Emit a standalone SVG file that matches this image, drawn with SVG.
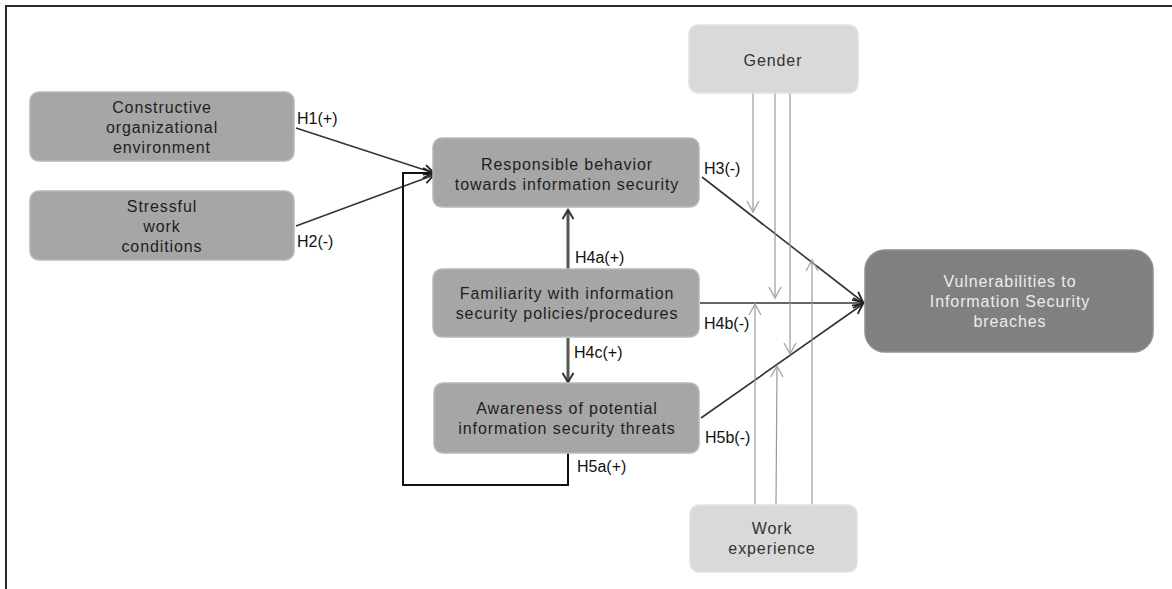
<svg xmlns="http://www.w3.org/2000/svg" width="1172" height="589" viewBox="0 0 1172 589">
<defs>
<style>
.box{fill:#a6a6a6;stroke:#b8b8b8;stroke-width:1.5}
.lbox{fill:#d9d9d9;stroke:#e2e2e2;stroke-width:1.5}
.dbox{fill:#808080;stroke:#8e8e8e;stroke-width:1.5}
.t{font-family:"Liberation Sans",Arial,sans-serif;font-size:16px;letter-spacing:0.9px;fill:#1e1e1e;text-anchor:middle}
.tw{font-family:"Liberation Sans",Arial,sans-serif;font-size:16px;letter-spacing:0.9px;fill:#ececec;text-anchor:middle}
.h{font-family:"Liberation Sans",Arial,sans-serif;font-size:16px;fill:#111}
.dk{stroke:#333;stroke-width:1.6;fill:none}
.thick{stroke:#555;stroke-width:3;fill:none}
.loop{stroke:#111;stroke-width:2;fill:none}
.gl{stroke:#999;stroke-width:1.2;fill:none}
</style>
<marker id="ad" markerUnits="userSpaceOnUse" markerWidth="14" markerHeight="14" refX="12" refY="7" orient="auto">
<path d="M2,2 L12,7 L2,12" fill="none" stroke="#222" stroke-width="1.8"/>
</marker>
<marker id="at" markerUnits="userSpaceOnUse" markerWidth="14" markerHeight="14" refX="11" refY="7" orient="auto">
<path d="M2,1.5 L11,7 L2,12.5" fill="none" stroke="#333" stroke-width="2"/>
</marker>
<marker id="ag" markerUnits="userSpaceOnUse" markerWidth="16" markerHeight="16" refX="13" refY="8" orient="auto">
<path d="M2,2 L13,8 L2,14" fill="none" stroke="#a8a8a8" stroke-width="1.4"/>
</marker>
</defs>
<rect width="1172" height="589" fill="#ffffff"/>
<path d="M6,589 L6,6 L1172,6" fill="none" stroke="#2a2a2a" stroke-width="2"/>

<g id="connectors">
<line class="dk" x1="296" y1="128" x2="434" y2="173" marker-end="url(#ad)"/>
<line class="dk" x1="296" y1="226" x2="434" y2="175" marker-end="url(#ad)"/>
<polyline class="loop" points="568,453 568,485 403,485 403,173 433,173" marker-end="url(#ad)"/>
<line class="thick" x1="568" y1="269" x2="568" y2="210" marker-end="url(#at)"/>
<line class="thick" x1="568" y1="338" x2="568" y2="382" marker-end="url(#at)"/>
<line class="dk" x1="702" y1="177" x2="863" y2="302" marker-end="url(#ad)"/>
<line class="dk" x1="700" y1="303" x2="863" y2="303" marker-end="url(#ad)"/>
<line class="dk" x1="701" y1="418" x2="863" y2="304" marker-end="url(#ad)"/>
<line class="gl" x1="753" y1="93" x2="753" y2="212" marker-end="url(#ag)"/>
<line class="gl" x1="775" y1="93" x2="775" y2="298" marker-end="url(#ag)"/>
<line class="gl" x1="790" y1="93" x2="790" y2="354" marker-end="url(#ag)"/>
<line class="gl" x1="755" y1="505" x2="755" y2="304" marker-end="url(#ag)"/>
<line class="gl" x1="776" y1="505" x2="777" y2="366" marker-end="url(#ag)"/>
<line class="gl" x1="812" y1="505" x2="812" y2="260" marker-end="url(#ag)"/>
</g>

<g id="labels">
<text class="h" x="297" y="124">H1(+)</text>
<text class="h" x="297" y="247">H2(-)</text>
<text class="h" x="704" y="174">H3(-)</text>
<text class="h" x="575" y="263">H4a(+)</text>
<text class="h" x="704" y="329">H4b(-)</text>
<text class="h" x="574" y="358">H4c(+)</text>
<text class="h" x="705" y="443">H5b(-)</text>
<text class="h" x="577" y="472">H5a(+)</text>
</g>

<g id="constructive">
<rect class="box" x="30" y="92" width="264" height="69" rx="9"/>
<text class="t" x="162" y="113">Constructive</text>
<text class="t" x="162" y="133">organizational</text>
<text class="t" x="162" y="153">environment</text>
</g>
<g id="stressful">
<rect class="box" x="30" y="191" width="264" height="69" rx="9"/>
<text class="t" x="162" y="212">Stressful</text>
<text class="t" x="162" y="232">work</text>
<text class="t" x="162" y="252">conditions</text>
</g>
<g id="responsible">
<rect class="box" x="433" y="138" width="266" height="69" rx="9"/>
<text class="t" x="567" y="170">Responsible behavior</text>
<text class="t" x="567" y="190">towards information security</text>
</g>
<g id="familiarity">
<rect class="box" x="433" y="269" width="266" height="68" rx="9"/>
<text class="t" x="567" y="299">Familiarity with information</text>
<text class="t" x="567" y="319">security policies/procedures</text>
</g>
<g id="awareness">
<rect class="box" x="434" y="383" width="265" height="70" rx="9"/>
<text class="t" x="567" y="414">Awareness of potential</text>
<text class="t" x="567" y="434">information security threats</text>
</g>
<g id="gender">
<rect class="lbox" x="689" y="25" width="169" height="68" rx="9"/>
<text class="t" x="773" y="66" style="fill:#333">Gender</text>
</g>
<g id="work">
<rect class="lbox" x="690" y="505" width="167" height="67" rx="9"/>
<text class="t" x="772" y="534" style="fill:#333">Work</text>
<text class="t" x="772" y="554" style="fill:#333">experience</text>
</g>
<g id="vulnerabilities">
<rect class="dbox" x="865" y="250" width="288" height="102" rx="20"/>
<text class="tw" x="1010" y="287">Vulnerabilities to</text>
<text class="tw" x="1010" y="307">Information Security</text>
<text class="tw" x="1010" y="327">breaches</text>
</g>
</svg>
